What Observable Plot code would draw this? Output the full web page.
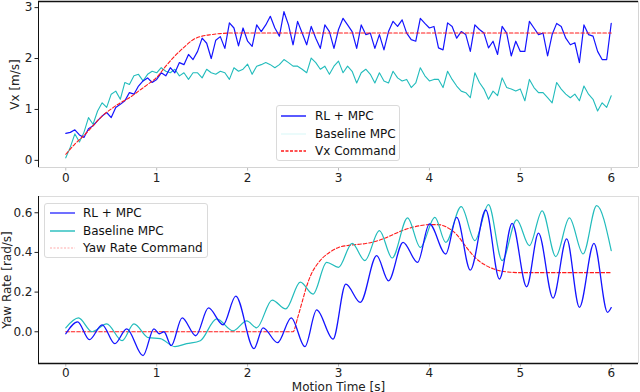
<!DOCTYPE html>
<html><head><meta charset="utf-8">
<script src="https://cdn.jsdelivr.net/npm/d3@7"></script>
<script src="https://cdn.jsdelivr.net/npm/@observablehq/plot@0.6"></script>
<style>
body{margin:0;background:#fff;font-family:"DejaVu Sans",sans-serif;}
#wrap{position:relative;width:640px;height:392px;overflow:hidden;background:#fff;}
#wrap > svg{position:absolute;left:0;}
.leg{position:absolute;background:#fff;border:1px solid #dadada;border-radius:3px;font-size:12px;color:#111;box-sizing:border-box;}
.row{position:absolute;white-space:nowrap;height:14px;line-height:14px;}
.row svg{position:absolute;top:4px;}
.row span{position:absolute;}
</style></head><body><div id="wrap"></div>
<script>
// ---------- data ----------
const xTicks = [0, 1, 2, 3, 4, 5, 6];
const vxTicks = [0, 1, 2, 3];
const yawTicks = [0, 0.2, 0.4, 0.6];

// top panel: sample times (s)
const tTop = [0,0.05,0.1,0.15,0.2,0.25,0.3,0.35,0.4,0.45,0.5,0.55,0.6,0.65,0.7,0.75,0.8,0.85,0.9,0.95,
1,1.05,1.1,1.15,1.2,1.25,1.3,1.35,1.4,1.45,1.5,1.55,1.6,1.65,1.7,1.75,1.8,1.85,1.9,1.95,
2,2.05,2.1,2.15,2.2,2.25,2.3,2.35,2.4,2.45,2.5,2.55,2.6,2.65,2.7,2.75,2.8,2.85,2.9,2.95,
3,3.05,3.1,3.15,3.2,3.25,3.3,3.35,3.4,3.45,3.5,3.55,3.6,3.65,3.7,3.75,3.8,3.85,3.9,3.95,
4,4.05,4.1,4.15,4.2,4.25,4.3,4.35,4.4,4.45,4.5,4.55,4.6,4.65,4.7,4.75,4.8,4.85,4.9,4.95,
5,5.05,5.1,5.15,5.2,5.25,5.3,5.35,5.4,5.45,5.5,5.55,5.6,5.65,5.7,5.75,5.8,5.85,5.9,5.95,6];
// Vx RL + MPC (m/s)
const vxRL = [0.53,0.55,0.60,0.50,0.45,0.62,0.68,0.78,0.87,0.94,0.84,1.04,1.10,1.17,1.33,1.30,1.46,1.56,1.62,1.53,
1.59,1.72,1.66,1.82,1.72,1.92,1.88,2.08,1.98,2.14,2.40,2.30,2.00,2.36,2.43,2.20,2.70,2.60,2.25,2.60,
2.34,2.24,2.66,2.53,2.66,2.83,2.60,2.44,2.92,2.66,2.27,2.73,2.50,2.27,2.63,2.40,2.20,2.66,2.53,2.20,
2.57,2.79,2.66,2.53,2.20,2.66,2.47,2.50,2.20,2.47,2.17,2.53,2.73,2.63,2.76,2.50,2.37,2.34,2.79,2.69,
2.60,2.63,2.21,2.17,2.70,2.63,2.40,2.53,2.47,2.14,2.66,2.57,2.50,2.21,2.34,2.08,2.63,2.50,2.05,2.34,
2.14,2.14,2.73,2.60,2.47,2.50,2.05,2.47,2.69,2.63,2.40,2.27,2.31,1.92,2.66,2.47,2.44,2.14,1.98,1.98,2.69];
// Vx Baseline MPC (m/s)
const vxBase = [0.05,0.26,0.52,0.36,0.55,0.84,0.71,0.97,1.13,1.04,1.30,1.36,1.20,1.53,1.49,1.66,1.69,1.56,1.69,1.75,
1.72,1.82,1.75,1.72,1.79,1.66,1.72,1.59,1.72,1.72,1.62,1.79,1.72,1.69,1.75,1.72,1.59,1.82,1.75,1.79,
1.89,1.69,1.85,1.88,1.92,1.88,1.82,1.88,1.98,1.92,1.85,1.85,1.79,1.72,2.01,1.92,1.79,1.85,1.69,1.85,
1.95,1.72,1.85,1.75,1.52,1.72,1.79,1.69,1.52,1.72,1.56,1.52,1.75,1.62,1.56,1.59,1.43,1.52,1.82,1.66,
1.56,1.59,1.59,1.43,1.75,1.59,1.46,1.36,1.33,1.23,1.72,1.53,1.40,1.20,1.36,1.27,1.62,1.43,1.40,1.36,
1.40,1.17,1.59,1.43,1.33,1.33,1.23,1.13,1.53,1.40,1.30,1.23,1.30,1.17,1.46,1.30,1.20,0.97,1.13,1.04,1.27];
// Vx command (m/s)
const tCmd = [0,0.1,0.2,0.3,0.4,0.5,0.6,0.7,0.8,0.9,1,1.1,1.2,1.3,1.4,1.5,1.6,1.7,1.8,2,3,4,5,6];
const vxCmd = [0.12,0.32,0.49,0.68,0.87,1.01,1.13,1.23,1.36,1.49,1.63,1.85,2.05,2.22,2.37,2.44,2.47,2.49,2.5,2.5,2.5,2.5,2.5,2.5];

// bottom panel: yaw rate (rad/s), turning points
const tYawRL = [0,0.13,0.26,0.40,0.54,0.67,0.85,0.97,1.03,1.08,1.16,1.28,1.43,1.57,1.73,1.87,2.07,2.17,2.33,2.48,2.63,2.76,2.94,
3.08,3.24,3.42,3.55,3.71,3.87,4.00,4.18,4.30,4.45,4.62,4.77,4.91,5.07,5.20,5.36,5.51,5.65,5.81,5.96,6.0];
const yawRL = [-0.01,0.05,-0.04,0.035,-0.06,0.015,-0.12,0.015,-0.01,0.0,-0.07,0.07,-0.02,0.12,0.035,0.18,-0.085,0.02,-0.055,0.07,-0.075,0.11,-0.037,
0.24,0.148,0.384,0.257,0.451,0.35,0.544,0.392,0.577,0.311,0.614,0.266,0.547,0.227,0.497,0.17,0.468,0.123,0.446,0.098,0.122];
const tYawBase = [0,0.14,0.29,0.45,0.62,0.75,0.91,1.04,1.20,1.33,1.48,1.66,1.84,1.99,2.10,2.27,2.42,2.58,2.72,2.87,3.00,
3.15,3.29,3.45,3.59,3.76,3.90,4.06,4.18,4.35,4.50,4.65,4.80,4.96,5.10,5.24,5.39,5.54,5.69,5.84,6.0];
const yawBase = [0.02,0.07,0.0,0.04,-0.045,0.04,-0.03,-0.035,-0.075,-0.06,-0.045,0.065,0.005,0.055,0.02,0.16,0.115,0.25,0.19,0.35,0.325,
0.446,0.359,0.51,0.372,0.574,0.425,0.577,0.451,0.631,0.46,0.641,0.359,0.564,0.434,0.61,0.379,0.574,0.392,0.636,0.409];
const tYawCmd = [0,2.5,2.55,2.6,2.65,2.7,2.75,2.8,2.9,3.0,3.1,3.2,3.3,3.4,3.5,3.6,3.7,3.8,3.9,4.0,4.1,4.2,4.3,4.4,4.5,4.6,4.7,4.8,4.9,5.0,6.0];
const yawCmd = [0,0,0.07,0.15,0.23,0.29,0.33,0.36,0.40,0.425,0.435,0.44,0.445,0.455,0.47,0.49,0.51,0.525,0.535,0.54,0.54,0.525,0.49,0.43,0.375,0.34,0.318,0.305,0.3,0.298,0.298];

// ---------- build ----------
const zip = (ts, vs) => ts.map((t, i) => ({t, v: vs[i]}));
const xDom = [-0.3, 6.3];
const topDom = [-0.14, 3.12];
const botDom = [-0.16, 0.682];
const BLUE = "#1414ff", CYAN = "#22bcbc", RED = "#ff1a1a";
const font = {fontFamily: "DejaVu Sans", fontSize: "12px", color: "#222", background: "white", overflow: "visible"};
const intFmt = d3.format("d");

const topChart = Plot.plot({
  width: 640, height: 190,
  marginLeft: 38, marginRight: 2, marginTop: 1, marginBottom: 23,
  style: font,
  x: {domain: xDom},
  y: {domain: topDom},
  marks: [
    Plot.axisX({ticks: xTicks, tickFormat: intFmt, tickSize: 3.5, tickPadding: 2, stroke: "#bbb", fill: "#222", label: null}),
    Plot.axisY({ticks: vxTicks, tickFormat: intFmt, tickSize: 3.5, tickPadding: 2.5, fill: "#222", label: "Vx [m/s]", labelArrow: "none", labelAnchor: "center", labelOffset: 28}),
    Plot.line(zip(tTop, vxBase), {x: "t", y: "v", stroke: CYAN, strokeWidth: 1.1}),
    Plot.line(zip(tTop, vxRL), {x: "t", y: "v", stroke: BLUE, strokeWidth: 1.2}),
    Plot.line(zip(tCmd, vxCmd), {x: "t", y: "v", stroke: RED, strokeWidth: 1.1, strokeDasharray: "3.5,2", curve: "monotone-x"}),
    Plot.ruleY([topDom[1]], {stroke: "#111", strokeWidth: 1.6}),
    Plot.ruleX([xDom[0]], {stroke: "#111", strokeWidth: 1}),
    Plot.ruleY([topDom[0]], {stroke: "#d4d4d4", strokeWidth: 1}),
    Plot.ruleX([xDom[1]], {stroke: "#d4d4d4", strokeWidth: 1})
  ]
});
topChart.style.top = "0px";

const botChart = Plot.plot({
  width: 640, height: 202,
  marginLeft: 38, marginRight: 2, marginTop: 6, marginBottom: 29,
  style: font,
  x: {domain: xDom},
  y: {domain: botDom},
  marks: [
    Plot.axisX({ticks: xTicks, tickFormat: intFmt, tickSize: 3.5, tickPadding: 1.5, stroke: "#bbb", fill: "#222", label: "Motion Time [s]", labelArrow: "none", labelAnchor: "center", labelOffset: 27}),
    Plot.axisY({ticks: yawTicks, tickFormat: d3.format(".1f"), tickSize: 3.5, tickPadding: 2.5, fill: "#222", label: "Yaw Rate [rad/s]", labelArrow: "none", labelAnchor: "center", labelOffset: 36}),
    Plot.line(zip(tYawCmd, yawCmd), {x: "t", y: "v", stroke: RED, strokeWidth: 1.1, strokeDasharray: "3.5,2", curve: "monotone-x"}),
    Plot.line(zip(tYawBase, yawBase), {x: "t", y: "v", stroke: CYAN, strokeWidth: 1.2, curve: "monotone-x"}),
    Plot.line(zip(tYawRL, yawRL), {x: "t", y: "v", stroke: BLUE, strokeWidth: 1.3, curve: "monotone-x"}),
    Plot.ruleY([botDom[1]], {stroke: "#dcdcdc", strokeWidth: 1}),
    Plot.ruleX([xDom[1]], {stroke: "#dcdcdc", strokeWidth: 1}),
    Plot.ruleX([xDom[0]], {stroke: "#111", strokeWidth: 1}),
    Plot.ruleY([botDom[0]], {stroke: "#111", strokeWidth: 1.6})
  ]
});
botChart.style.top = "190px";

const wrap = document.getElementById("wrap");
wrap.appendChild(topChart);
wrap.appendChild(botChart);

// ---------- legends ----------
function legend(box, items) {
  const d = document.createElement("div");
  d.className = "leg";
  Object.assign(d.style, {left: box.left + "px", top: box.top + "px", width: box.w + "px", height: box.h + "px"});
  items.forEach((it, i) => {
    const r = document.createElement("div");
    r.className = "row";
    r.style.top = (box.rows[i] - 7) + "px";
    r.style.left = "0px";
    r.style.width = box.w + "px";
    r.innerHTML = `<svg width="26" height="6" style="left:${box.hx}px"><line x1="0" y1="3" x2="25" y2="3" stroke="${it.color}" stroke-width="1.4" ${it.dash ? `stroke-dasharray="${it.dash}"` : ""}/></svg><span style="left:${box.tx}px">${it.label}</span>`;
    d.appendChild(r);
  });
  wrap.appendChild(d);
}
legend({left: 276, top: 105, w: 124, h: 56, rows: [9.5, 27.5, 45], hx: 4, tx: 38},
  [{label: "RL + MPC", color: BLUE}, {label: "Baseline MPC", color: "#e3f9f9"}, {label: "Vx Command", color: RED, dash: "3,1.5"}]);
legend({left: 44, top: 203, w: 164, h: 55, rows: [8.5, 27, 43.5], hx: 5, tx: 38},
  [{label: "RL + MPC", color: "#3333ff"}, {label: "Baseline MPC", color: CYAN}, {label: "Yaw Rate Command", color: "#ffc8c8", dash: "2,1.5"}]);
</script></body></html>
